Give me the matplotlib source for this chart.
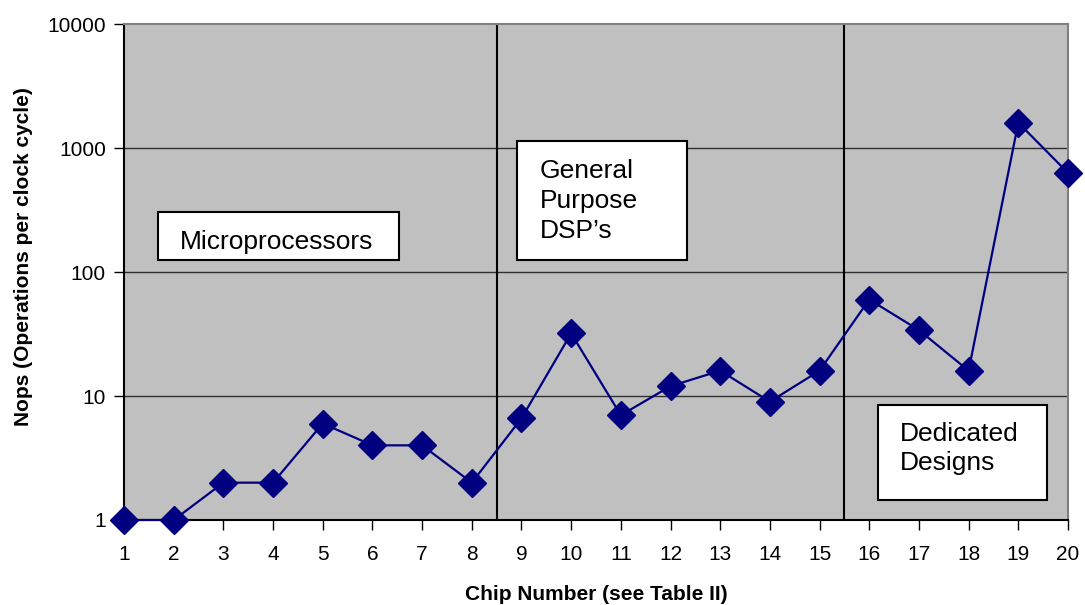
import matplotlib
matplotlib.use("Agg")
import matplotlib.pyplot as plt
from matplotlib.patches import Rectangle

plt.rcParams["font.family"] = ["Liberation Sans", "DejaVu Sans"]

# chip index and measured operations per clock cycle
chips = list(range(1, 21))
nops = [1, 1, 2, 2, 6, 4, 4, 2, 6.6, 32, 7, 12, 16, 9, 16, 60, 34, 16, 1600, 630]

# group boundaries between chip families
dividers = [8.5, 15.5]
y_ticks = [1, 10, 100, 1000, 10000]
y_tick_labels = ["1", "10", "100", "1000", "10000"]

fig = plt.figure(figsize=(10.85, 6.05), dpi=100)
ax = fig.add_axes([0.1143, 0.1405, 0.8700, 0.8198])
ax.set_facecolor("#C0C0C0")

ax.set_yscale("log")
ax.set_ylim(1, 10000)
ax.set_xlim(1, 20)

for y in y_ticks[1:-1]:
    ax.axhline(y, color="#303030", lw=1.0, zorder=1)
for x in dividers:
    ax.axvline(x, color="black", lw=1.5, zorder=2)

ax.plot(chips, nops, color="#000080", lw=1.6, marker="D", markersize=14,
        markerfacecolor="#000080", markeredgecolor="#000080",
        clip_on=False, zorder=5)

ax.set_xticks(chips)
ax.set_xticklabels([str(c) for c in chips], fontsize=15)
ax.set_yticks(y_ticks)
ax.set_yticklabels(y_tick_labels, fontsize=15)
ax.yaxis.set_minor_locator(matplotlib.ticker.NullLocator())
ax.tick_params(axis="both", direction="out", length=7, width=1, color="black")
ax.tick_params(axis="x", pad=11)
ax.tick_params(axis="y", pad=6)

ax.spines["left"].set_color("black")
ax.spines["bottom"].set_color("black")
ax.spines["top"].set_color("#808080")
ax.spines["right"].set_color("#808080")
for s in ax.spines.values():
    s.set_linewidth(1.5)

ax.set_xlabel("Chip Number (see Table II)", fontsize=15, fontweight="bold")
ax.set_ylabel("Nops (Operations per clock cycle)", fontsize=15, fontweight="bold")
ax.xaxis.set_label_coords(0.5, -0.131)
ax.yaxis.set_label_coords(-0.0964, 0.532)

# labelled boxes for the three chip families (axes fraction coords)
boxes = [
    ((0.036, 0.524), 0.255, 0.097, 0.0593, 0.5605, "Microprocessors"),
    ((0.416, 0.524), 0.180, 0.240, 0.4407, 0.643, "General\nPurpose\nDSP\u2019s"),
    ((0.799, 0.040), 0.179, 0.192, 0.822, 0.144, "Dedicated\nDesigns"),
]
for (x0, y0), w, h, tx, ty, label in boxes:
    ax.add_patch(Rectangle((x0, y0), w, h, transform=ax.transAxes,
                           facecolor="white", edgecolor="black", lw=1.5, zorder=4))
    ax.text(tx, ty, label, transform=ax.transAxes, fontsize=19,
            ha="left", va="center", linespacing=1.3, zorder=6)

fig.savefig("out.png", dpi=100)
